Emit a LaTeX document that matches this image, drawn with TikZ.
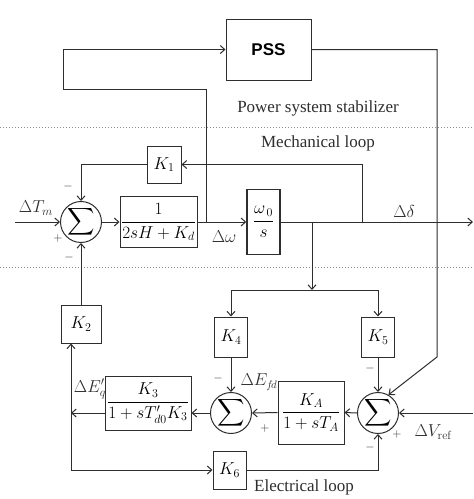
\documentclass[tikz,border=0pt]{standalone}
\usepackage{amsmath}
\usepackage{fontspec}
\newfontfamily\pssfont{Liberation Sans}
\newfontfamily\txtfont{Liberation Serif}
\usetikzlibrary{arrows.meta}
\definecolor{lc}{HTML}{2E2E2E}
\definecolor{dc}{HTML}{8A8A8A}
\newcommand{\sumsym}{\scalebox{1.1}{$\displaystyle\sum$}}
\tikzset{
  blk/.style={draw=lc, line width=1pt, fill=white, inner sep=1pt},
  sumn/.style={circle, draw=lc, line width=1pt, fill=white, inner sep=0pt},
  conn/.style={draw=lc, line width=1pt, -{Straight Barb[length=4.5pt,width=8pt]}},
  dotline/.style={draw=dc, line width=1pt, dotted},
  lbl/.style={text=lc, inner sep=0pt},
  txt/.style={text=lc, inner sep=0pt, font=\txtfont\fontsize{17}{20}\selectfont},
  sgn/.style={text=lc, inner sep=0pt, font=\fontsize{13}{15}\selectfont}
}
\begin{document}
\begin{tikzpicture}[x=1pt,y=-1pt,font=\fontsize{17}{20}\selectfont]
\useasboundingbox (0,0) rectangle (474,499);
\fill[white] (0,0) rectangle (474,499);

% dotted separators
\draw[dotline] (0,127) -- (474,127);
\draw[dotline] (0,267) -- (474,267);

% blocks
\node[blk, minimum width=85pt, minimum height=61pt, font=\pssfont\bfseries\fontsize{17}{19}\selectfont] (pss) at (268.5,49.5) {PSS};
\node[blk, minimum width=34pt, minimum height=37pt] (k1) at (164,164.5) {$K_1$};
\node[sumn, minimum size=33pt] (s1) at (81,222) {\sumsym};
\node[blk, minimum width=77pt, minimum height=51pt] (g1) at (158.5,222) {$\displaystyle\frac{1}{2sH+K_d}$};
\node[blk, line width=1.5pt, minimum width=33pt, minimum height=65pt] (g2) at (263.5,222) {$\displaystyle\frac{\omega_{\,0}}{s}$};
\node[blk, minimum width=40pt, minimum height=38pt] (k2) at (81,324) {$K_2$};
\node[blk, minimum width=33pt, minimum height=40pt] (k4) at (231,337) {$K_4$};
\node[blk, minimum width=33pt, minimum height=40pt] (k5) at (378,337) {$K_5$};
\node[sumn, minimum size=30pt] (s3) at (231,413) {\sumsym};
\node[sumn, minimum size=32pt] (s2) at (378,413) {\sumsym};
\node[blk, minimum width=66pt, minimum height=63pt] (ka) at (311,412.5) {$\displaystyle\frac{K_A}{1+sT_A}$};
\node[blk, minimum width=86pt, minimum height=54pt] (k3) at (148,403) {$\displaystyle\frac{K_3}{1+sT'_{d0}K_3}$};
\node[blk, minimum width=33pt, minimum height=38pt] (k6) at (229.5,470) {$K_6$};

% coordinates
\coordinate (tin) at (15,222);
\coordinate (dout) at (473,222);
\coordinate (b1) at (206,222);
\coordinate (p1) at (63,89);
\coordinate (b2) at (362,222);
\coordinate (b3) at (312,222);
\coordinate (b4) at (312,290);
\coordinate (p2) at (437,357);
\coordinate (vin) at (473,413);
\coordinate (q1) at (71,413);
\coordinate (q2) at (71,470);

% connectors
\draw[conn] (tin) -- (s1.west);
\draw[conn] (s1.east) -- (g1.west);
\draw[conn] (g1.east) -- (g2.west);
\draw[conn] (g2.east) -- (dout);
\draw[conn] (b1) |- (p1) |- (pss.west);
\draw[conn] (b2) |- (k1.east);
\draw[conn] (k1.west) -| (s1.north);
\draw[conn] (b3) -- (b4);
\draw[conn] (b4) -| (k4.north);
\draw[conn] (b4) -| (k5.north);
\draw[conn] (pss.east) -| (p2) -- (s2.60);
\draw[conn] (vin) -- (s2.east);
\draw[conn] (s2.west) -- (ka.east);
\draw[conn] (ka.west) -- (s3.east);
\draw[conn] (k4.south) -- (s3.north);
\draw[conn] (k5.south) -- (s2.north);
\draw[conn] (s3.west) -- (s3.west -| k3.east);
\draw[conn] (k3.west |- q1) -- (q1);
\draw[conn] (q2) -- (q2 |- k2.south);
\draw[conn] (q2) -- (k6.west);
\draw[conn] (k6.east) -| (s2.south);
\draw[conn] (k2.north) -- (s1.south);

% labels
\node[txt] (lpss) at (318,108) {Power system stabilizer};
\node[txt] (lmech) at (318,143) {Mechanical loop};
\node[lbl] (ltm) at (36,208) {$\Delta T_m$};
\node[sgn] (m1) at (68,186) {$-$};
\node[sgn] (p1s) at (58,238) {$+$};
\node[sgn] (m2) at (69,257) {$-$};
\node[lbl] (lw) at (224,237) {$\Delta\omega$};
\node[lbl] (ld) at (404,211) {$\Delta\delta$};
\node[lbl] (leq) at (90,389) {$\Delta E'_q$};
\node[lbl, font=\fontsize{16}{18}\selectfont] (lefd) at (259,382) {$\Delta E_{f\!d}$};
\node[sgn] (m3) at (218,378) {$-$};
\node[sgn] (p3) at (265,428) {$+$};
\node[sgn] (m4) at (370,368) {$-$};
\node[sgn] (p4) at (397,434) {$+$};
\node[lbl] (lvref) at (433,432) {$\Delta V_{\mathrm{ref}}$};
\node[sgn] (m5) at (370,447) {$-$};
\node[txt] (lel) at (304,487) {Electrical loop};
\end{tikzpicture}
\end{document}
